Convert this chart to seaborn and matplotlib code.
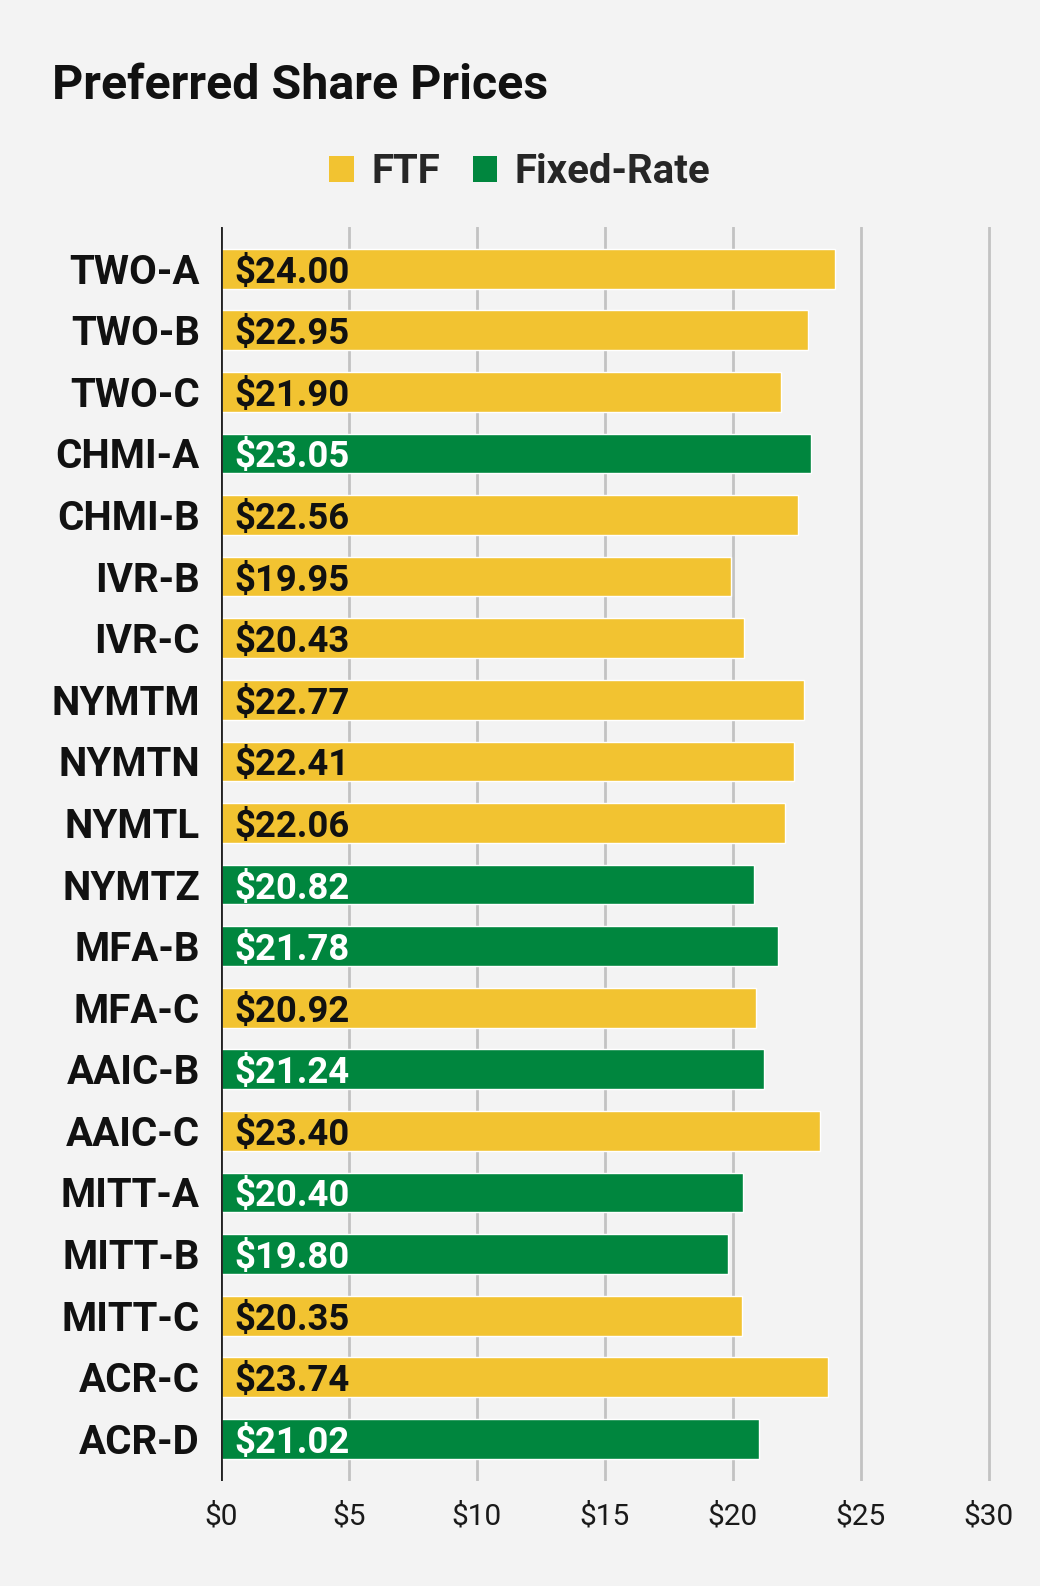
import matplotlib
matplotlib.use('Agg')
import matplotlib.pyplot as plt
from matplotlib.patches import Patch
import seaborn as sns
import pandas as pd

# Datos del grafico
tickers = ['TWO-A', 'TWO-B', 'TWO-C', 'CHMI-A', 'CHMI-B', 'IVR-B', 'IVR-C',
           'NYMTM', 'NYMTN', 'NYMTL', 'NYMTZ', 'MFA-B', 'MFA-C', 'AAIC-B',
           'AAIC-C', 'MITT-A', 'MITT-B', 'MITT-C', 'ACR-C', 'ACR-D']
precios = [24.00, 22.95, 21.90, 23.05, 22.56, 19.95, 20.43, 22.77, 22.41, 22.06,
           20.82, 21.78, 20.92, 21.24, 23.40, 20.40, 19.80, 20.35, 23.74, 21.02]
tipos = ['FTF', 'FTF', 'FTF', 'Fixed-Rate', 'FTF', 'FTF', 'FTF', 'FTF', 'FTF', 'FTF',
         'Fixed-Rate', 'Fixed-Rate', 'FTF', 'Fixed-Rate', 'FTF', 'Fixed-Rate',
         'Fixed-Rate', 'FTF', 'FTF', 'Fixed-Rate']
series = ['FTF', 'Fixed-Rate']
x_ticks = [0, 5, 10, 15, 20, 25, 30]

colores = {'FTF': '#F2C331', 'Fixed-Rate': '#00863E'}
fondo = '#F3F3F3'

df = pd.DataFrame({'ticker': tickers, 'precio': precios, 'tipo': tipos})

sns.set_style('white')
plt.rcParams['font.family'] = ['Roboto', 'DejaVu Sans']

fig = plt.figure(figsize=(10.40, 15.86), dpi=100, facecolor=fondo)
ax = fig.add_axes([0.2122, 0.0664, 0.963 - 0.2122, 0.857 - 0.0664])
ax.set_facecolor(fondo)

sns.barplot(data=df, x='precio', y='ticker', hue='tipo', hue_order=series,
            palette=colores, dodge=False, width=0.645, saturation=1,
            legend=False, ax=ax, zorder=3)

# Etiquetas de valor dentro de las barras
for i, (p, t) in enumerate(zip(precios, tipos)):
    ax.text(0.55, i, f'${p:.2f}', ha='left', va='center_baseline',
            fontsize=26.3, fontweight='bold',
            color='white' if t == 'Fixed-Rate' else '#111111', zorder=4)

ax.set_xlim(0, 30.5)
ax.set_ylim(19.68, -0.68)
ax.set_xticks(x_ticks)
ax.set_xticklabels([f'${v}' for v in x_ticks], fontsize=21.5, color='#1a1a1a')
ax.tick_params(axis='x', length=0, pad=16)
ax.tick_params(axis='y', length=0, pad=15, labelsize=29)
for lbl in ax.get_yticklabels():
    lbl.set_fontweight('bold')
    lbl.set_color('#111111')
ax.set_xlabel('')
ax.set_ylabel('')

ax.grid(axis='x', color='#C2C2C2', linewidth=2, zorder=0)
ax.grid(axis='y', visible=False)
sns.despine(ax=ax, left=True, bottom=True, right=True, top=True)
ax.axvline(0, color='#222222', linewidth=2, zorder=5)

# Titulo y leyenda
fig.text(0.05, 0.9374, 'Preferred Share Prices', fontsize=34.8, fontweight='bold',
         color='#111111', va='baseline', ha='left')
handles = [Patch(facecolor=colores[s], edgecolor='none', label=s) for s in series]
leg = fig.legend(handles=handles, loc='center', bbox_to_anchor=(0.5, 0.8915), ncol=2,
                 frameon=False, handlelength=0.6, handleheight=0.6,
                 handletextpad=0.45, columnspacing=0.8,
                 prop={'size': 29, 'weight': 'bold'})

fig.savefig('out.png', dpi=100, facecolor=fondo)
